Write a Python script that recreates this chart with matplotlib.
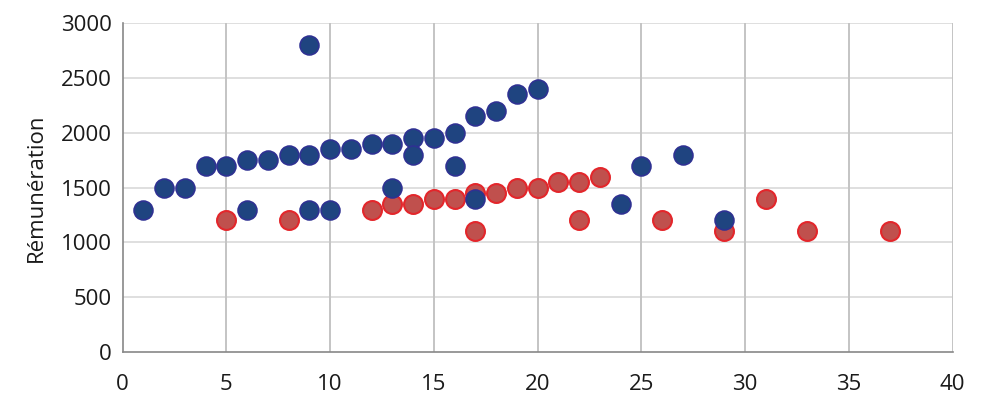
import matplotlib.pyplot as plt

# series 1 (blue)
blue_x = [1, 2, 3, 4, 5, 6, 6, 7, 8, 9, 9, 9, 10, 10, 11, 12, 13, 13, 14, 14,
          15, 16, 16, 17, 17, 18, 19, 20, 24, 25, 27, 29]
blue_y = [1300, 1500, 1500, 1700, 1700, 1750, 1300, 1750, 1800, 1800, 2800, 1300,
          1850, 1300, 1850, 1900, 1900, 1500, 1950, 1800, 1950, 2000, 1700, 2150,
          1400, 2200, 2350, 2400, 1350, 1700, 1800, 1200]

# series 2 (red)
red_x = [5, 8, 12, 13, 14, 15, 16, 17, 17, 18, 19, 20, 21, 22, 22, 23, 26, 29,
         31, 33, 37]
red_y = [1200, 1200, 1300, 1350, 1350, 1400, 1400, 1450, 1100, 1450, 1500, 1500,
         1550, 1550, 1200, 1600, 1200, 1100, 1400, 1100, 1100]

plt.rcParams['font.family'] = ['Open Sans', 'DejaVu Sans']

fig = plt.figure(figsize=(9.81, 3.97), dpi=100)
ax = fig.add_axes([0.125, 0.113, 0.846, 0.829])

# horizontal grid light, vertical grid a bit darker
for yv in range(500, 3001, 500):
    ax.axhline(yv, color='#D9D9D9', lw=1.2, zorder=0)
for xv in range(5, 41, 5):
    ax.axvline(xv, color='#C4C4C4', lw=1.4, zorder=0)

ax.scatter(red_x, red_y, s=185, c='#C0504D', edgecolors='#E3262B',
           linewidths=1.5, zorder=3)
ax.scatter(blue_x, blue_y, s=185, c='#1F4480', edgecolors='#2E3192',
           linewidths=1.2, zorder=4)

ax.set_xlim(0, 40)
ax.set_ylim(0, 3000)
ax.set_xticks(range(0, 41, 5))
ax.set_yticks(range(0, 3001, 500))
ax.tick_params(length=0, labelsize=16, colors='#1a1a1a', pad=8)
ax.tick_params(axis='x', pad=16)

for side in ['top', 'right']:
    ax.spines[side].set_visible(False)
ax.spines['left'].set_color('#888888')
ax.spines['bottom'].set_color('#888888')
ax.spines['left'].set_linewidth(1.2)
ax.spines['bottom'].set_linewidth(1.2)

ax.set_ylabel('Rémunération', fontsize=16, color='#1a1a1a', labelpad=10)

fig.savefig('out.png', dpi=100)
